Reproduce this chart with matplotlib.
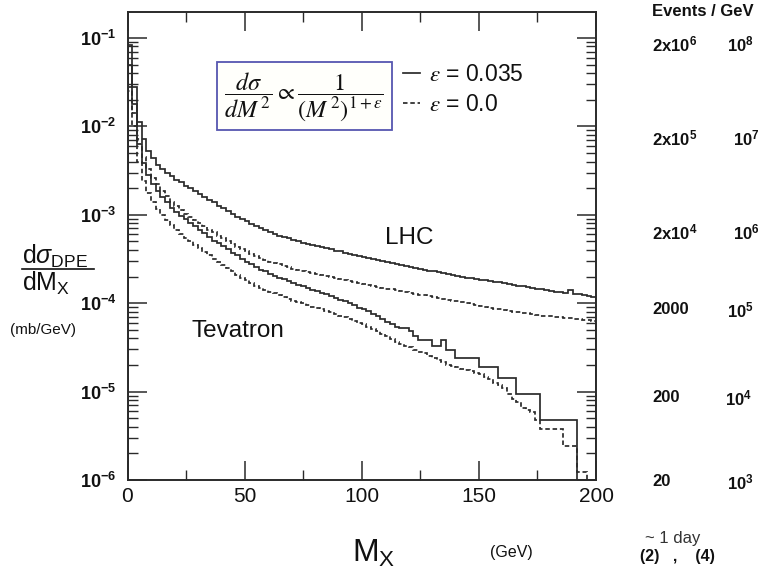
import numpy as np
import matplotlib
matplotlib.use("Agg")
import matplotlib.pyplot as plt
from matplotlib.ticker import MultipleLocator, LogLocator, NullFormatter, FuncFormatter, FixedLocator
from matplotlib.patches import Rectangle
from matplotlib.lines import Line2D

plt.rcParams['font.family'] = ['Liberation Sans', 'DejaVu Sans']
plt.rcParams['mathtext.fontset'] = 'custom'
plt.rcParams['mathtext.rm'] = 'Liberation Sans'
plt.rcParams['mathtext.it'] = 'Liberation Sans:italic'
plt.rcParams['mathtext.bf'] = 'Liberation Sans:bold'

# ---------------- data (dsigma/dM_X in mb/GeV, 2 GeV bins starting at M_X = 0) ----------------
bin_width = 2.0

lhc_eps035 = [8.3e-2, 2.8e-2, 1.12e-2, 7.1e-3, 5.2e-3, 4.4e-3, 3.7e-3, 3.3e-3, 3.0e-3, 2.75e-3,
              2.5e-3, 2.32e-3, 2.14e-3, 2.0e-3, 1.84e-3, 1.72e-3, 1.58e-3, 1.48e-3, 1.38e-3, 1.27e-3,
              1.19e-3, 1.10e-3, 1.02e-3, 9.5e-4, 8.9e-4, 8.5e-4, 7.9e-4, 7.5e-4, 7.1e-4, 6.7e-4,
              6.3e-4, 6.1e-4, 5.8e-4, 5.6e-4, 5.4e-4, 5.2e-4, 5.0e-4, 4.85e-4, 4.7e-4, 4.5e-4,
              4.4e-4, 4.27e-4, 4.17e-4, 4.07e-4, 3.94e-4, 3.85e-4, 3.72e-4, 3.63e-4, 3.55e-4, 3.43e-4,
              3.35e-4, 3.24e-4, 3.16e-4, 3.09e-4, 2.99e-4, 2.92e-4, 2.85e-4, 2.75e-4, 2.69e-4, 2.63e-4,
              2.57e-4, 2.51e-4, 2.45e-4, 2.40e-4, 2.34e-4, 2.29e-4, 2.24e-4, 2.19e-4, 2.14e-4, 2.09e-4,
              2.04e-4, 2.0e-4, 1.95e-4, 1.93e-4, 1.88e-4, 1.84e-4, 1.82e-4, 1.78e-4, 1.74e-4, 1.72e-4,
              1.68e-4, 1.64e-4, 1.62e-4, 1.58e-4, 1.55e-4, 1.51e-4, 1.48e-4, 1.46e-4, 1.43e-4, 1.40e-4,
              1.38e-4, 1.35e-4, 1.33e-4, 1.30e-4, 1.40e-4, 1.27e-4, 1.26e-4, 1.24e-4, 1.22e-4, 1.17e-4]

lhc_eps0 = [2.8e-2, 1.4e-2, 7.1e-3, 4.5e-3, 3.3e-3, 2.6e-3, 2.2e-3, 1.86e-3, 1.62e-3, 1.41e-3,
            1.26e-3, 1.135e-3, 1.02e-3, 9.4e-4, 8.7e-4, 8.0e-4, 7.4e-4, 6.8e-4, 6.3e-4, 5.8e-4,
            5.4e-4, 5.0e-4, 4.7e-4, 4.37e-4, 4.07e-4, 3.85e-4, 3.63e-4, 3.43e-4, 3.24e-4, 3.09e-4,
            2.95e-4, 2.85e-4, 2.75e-4, 2.66e-4, 2.57e-4, 2.45e-4, 2.40e-4, 2.32e-4, 2.26e-4, 2.19e-4,
            2.14e-4, 2.09e-4, 2.04e-4, 2.0e-4, 1.93e-4, 1.88e-4, 1.82e-4, 1.78e-4, 1.74e-4, 1.70e-4,
            1.66e-4, 1.62e-4, 1.58e-4, 1.53e-4, 1.50e-4, 1.46e-4, 1.43e-4, 1.40e-4, 1.36e-4, 1.33e-4,
            1.30e-4, 1.27e-4, 1.24e-4, 1.23e-4, 1.20e-4, 1.17e-4, 1.15e-4, 1.12e-4, 1.10e-4, 1.07e-4,
            1.05e-4, 1.02e-4, 1.0e-4, 9.8e-5, 9.5e-5, 9.3e-5, 9.1e-5, 8.9e-5, 8.7e-5, 8.5e-5,
            8.4e-5, 8.2e-5, 8.0e-5, 7.9e-5, 7.8e-5, 7.7e-5, 7.5e-5, 7.4e-5, 7.2e-5, 7.2e-5,
            7.1e-5, 7.0e-5, 6.9e-5, 6.8e-5, 6.8e-5, 6.7e-5, 6.6e-5, 6.5e-5, 6.4e-5, 6.3e-5]

tev_eps035 = [5.0e-2, 1.78e-2, 6.3e-3, 3.8e-3, 2.8e-3, 2.24e-3, 1.86e-3, 1.58e-3, 1.38e-3, 1.20e-3,
              1.07e-3, 9.8e-4, 8.9e-4, 8.1e-4, 7.4e-4, 6.8e-4, 6.2e-4, 5.6e-4, 5.1e-4, 4.8e-4,
              4.4e-4, 4.07e-4, 3.72e-4, 3.47e-4, 3.16e-4, 2.95e-4, 2.75e-4, 2.57e-4, 2.40e-4, 2.29e-4,
              2.16e-4, 2.04e-4, 1.95e-4, 1.86e-4, 1.78e-4, 1.70e-4, 1.62e-4, 1.55e-4, 1.48e-4, 1.41e-4,
              1.36e-4, 1.32e-4, 1.26e-4, 1.20e-4, 1.15e-4, 1.10e-4, 1.05e-4, 1.0e-4, 9.5e-5, 8.9e-5,
              8.7e-5, 8.1e-5, 7.6e-5, 7.1e-5, 6.6e-5, 6.2e-5, 5.75e-5, 5.4e-5, 5.2e-5, 5.2e-5,
              4.8e-5, 4.2e-5, 3.8e-5, 3.8e-5, 3.8e-5, 3.24e-5, 3.24e-5, 3.8e-5, 2.95e-5, 2.95e-5,
              2.4e-5, 2.4e-5, 2.4e-5, 2.4e-5, 2.4e-5, 1.9e-5, 1.9e-5, 1.9e-5, 1.9e-5, 1.41e-5,
              1.41e-5, 1.41e-5, 1.41e-5, 9.5e-6, 9.5e-6, 9.5e-6, 9.5e-6, 9.5e-6, 4.8e-6, 4.8e-6,
              4.8e-6, 4.8e-6, 4.8e-6, 4.8e-6, 4.8e-6, 4.8e-6]

tev_eps0 = [2.5e-2, 1.0e-2, 4.0e-3, 2.4e-3, 1.78e-3, 1.41e-3, 1.17e-3, 1.0e-3, 8.7e-4, 7.6e-4,
            6.8e-4, 6.1e-4, 5.5e-4, 5.0e-4, 4.6e-4, 4.17e-4, 3.8e-4, 3.47e-4, 3.16e-4, 2.92e-4,
            2.69e-4, 2.48e-4, 2.29e-4, 2.11e-4, 1.95e-4, 1.82e-4, 1.70e-4, 1.58e-4, 1.50e-4, 1.41e-4,
            1.35e-4, 1.29e-4, 1.23e-4, 1.17e-4, 1.12e-4, 1.07e-4, 1.03e-4, 1.0e-4, 9.5e-5, 9.1e-5,
            8.8e-5, 8.5e-5, 8.2e-5, 7.9e-5, 7.6e-5, 7.2e-5, 6.9e-5, 6.6e-5, 6.3e-5, 6.0e-5,
            5.75e-5, 5.4e-5, 5.1e-5, 4.8e-5, 4.5e-5, 4.2e-5, 3.9e-5, 3.6e-5, 3.47e-5, 3.3e-5,
            3.16e-5, 2.95e-5, 2.8e-5, 2.7e-5, 2.5e-5, 2.4e-5, 2.3e-5, 2.14e-5, 2.0e-5, 1.95e-5,
            1.9e-5, 1.82e-5, 1.74e-5, 1.70e-5, 1.62e-5, 1.58e-5, 1.48e-5, 1.38e-5, 1.26e-5, 1.20e-5,
            1.10e-5, 9.5e-6, 8.3e-6, 7.6e-6, 6.6e-6, 6.2e-6, 5.9e-6, 4.8e-6, 3.8e-6, 3.8e-6,
            3.8e-6, 3.8e-6, 3.8e-6, 2.45e-6, 2.45e-6, 2.45e-6, 1.23e-6, 1.23e-6]

x_range = (0, 200)
y_range = (1e-6, 0.198)
x_major_ticks = [0, 50, 100, 150, 200]
y_major_ticks = [1e-6, 1e-5, 1e-4, 1e-3, 1e-2, 1e-1]

legend_labels = [r'$\varepsilon$ = 0.035', r'$\varepsilon$ = 0.0']
events_labels_col1 = ['2x10$^{\\mathbf{6}}$', '2x10$^{\\mathbf{5}}$', '2x10$^{\\mathbf{4}}$', '2000', '200', '20']
events_labels_col2 = ['10$^{\\mathbf{8}}$', '10$^{\\mathbf{7}}$', '10$^{\\mathbf{6}}$', '10$^{\\mathbf{5}}$', '10$^{\\mathbf{4}}$', '10$^{\\mathbf{3}}$']

# ---------------- figure ----------------
W, H = 760, 576
fig = plt.figure(figsize=(W / 100, H / 100), dpi=100)
fig.patch.set_facecolor('white')


def fx(px):
    return px / W


def fy(py):
    return 1 - py / H


ink = '#2a2a2a'
txt = '#111111'

ax = fig.add_axes([fx(127.5), fy(480), fx(596) - fx(127.5), fy(11.7) - fy(480)])
ax.set_yscale('log')
ax.set_xlim(*x_range)
ax.set_ylim(*y_range)

dash = (0, (2.6, 1.6))
series = [
    (lhc_eps035, '-'),
    (lhc_eps0, dash),
    (tev_eps035, '-'),
    (tev_eps0, dash),
]
for vals, ls in series:
    edges = np.arange(len(vals) + 1) * bin_width
    ax.stairs(vals, edges, baseline=y_range[0] * 0.1, color=ink, lw=1.25,
              linestyle=ls, fill=False)

for s in ax.spines.values():
    s.set_color(ink)
    s.set_linewidth(1.4)

ax.xaxis.set_major_locator(FixedLocator(x_major_ticks))
ax.xaxis.set_minor_locator(MultipleLocator(25))
ax.yaxis.set_major_locator(FixedLocator(y_major_ticks))
ax.yaxis.set_minor_locator(LogLocator(base=10, subs=np.arange(2, 10)))
ax.yaxis.set_minor_formatter(NullFormatter())
ax.yaxis.set_major_formatter(FuncFormatter(
    lambda v, p: r'$\mathbf{10^{%d}}$' % int(round(np.log10(v)))))
ax.xaxis.set_major_formatter(FuncFormatter(lambda v, p: '%d' % v))

ax.tick_params(which='both', direction='in', top=True, right=True, color=ink)
ax.tick_params(which='major', length=14, width=1.1)
ax.tick_params(which='minor', length=7, width=1.0)
ax.tick_params(axis='x', which='major', labelsize=15, pad=5, labelcolor=txt)
ax.tick_params(axis='y', which='major', labelsize=13, pad=8, labelcolor=txt)

# formula box
fig.add_artist(Rectangle((fx(217), fy(130)), fx(392) - fx(217), fy(62) - fy(130),
                         transform=fig.transFigure, facecolor='#fffffb',
                         edgecolor='#5656b0', lw=1.3, zorder=5))
fig.text(fx(304), fy(97),
         r'$\dfrac{d\sigma}{dM^{\,2}} \propto \dfrac{1}{(M^{\,2})^{1+\varepsilon}}$',
         math_fontfamily='stix', fontsize=17.5, ha='center', va='center', color=txt, zorder=6)

# legend
handles = [Line2D([], [], color=ink, lw=1.25, ls='-'),
           Line2D([], [], color=ink, lw=1.25, ls=dash)]
leg = ax.legend(handles, legend_labels, loc='upper left',
                bbox_to_anchor=(fx(403), fy(63)), bbox_transform=fig.transFigure,
                frameon=False, fontsize=16.5, handlelength=0.75, handletextpad=0.4,
                labelspacing=0.3, borderpad=0, borderaxespad=0)
for t in leg.get_texts():
    t.set_math_fontfamily('stix')
    t.set_color(txt)

# curve labels
fig.text(fx(409), fy(238), 'LHC', fontsize=17.5, ha='center', va='center', color=txt)
fig.text(fx(238), fy(331), 'Tevatron', fontsize=17.5, ha='center', va='center', color=txt)

# y-axis label (fraction)
fig.text(fx(22), fy(264), r'd$\sigma_{\mathrm{DPE}}$', fontsize=18, ha='left', va='baseline', color=txt)
fig.add_artist(Line2D([fx(22), fx(94)], [fy(269), fy(269)], transform=fig.transFigure,
                      color=txt, lw=1.2))
fig.text(fx(22), fy(291), r'dM$_{\mathrm{X}}$', fontsize=18, ha='left', va='baseline', color=txt)
fig.text(fx(10), fy(330), '(mb/GeV)', fontsize=11, ha='left', va='center', color=txt)

# x-axis label
fig.text(fx(352), fy(562), r'M$_{\mathrm{X}}$', fontsize=23, ha='left', va='baseline', color=txt)
fig.text(fx(490), fy(553), '(GeV)', fontsize=11.5, ha='left', va='center', color=txt)

# events / GeV scale
fig.text(fx(652), fy(12), 'Events / GeV', fontsize=12, fontweight='bold', ha='left', va='center', color=txt)
row_y = [44, 138, 232, 310, 398, 482]
col2_x = [727, 733, 733, 727, 725, 727]
for lab1, lab2, yy, x2 in zip(events_labels_col1, events_labels_col2, row_y, col2_x):
    fig.text(fx(652), fy(yy), lab1, fontsize=12, fontweight='bold', ha='left', va='center', color=txt)
    fig.text(fx(x2), fy(yy), lab2, fontsize=12, fontweight='bold', ha='left', va='center', color=txt)
fig.text(fx(645), fy(538), '~ 1 day', fontsize=12, ha='left', va='center', color='#333333')
fig.text(fx(640), fy(556), '(2)   ,    (4)', fontsize=11.5, fontweight='bold', ha='left', va='center', color=txt)

fig.savefig('out.png', dpi=100)
